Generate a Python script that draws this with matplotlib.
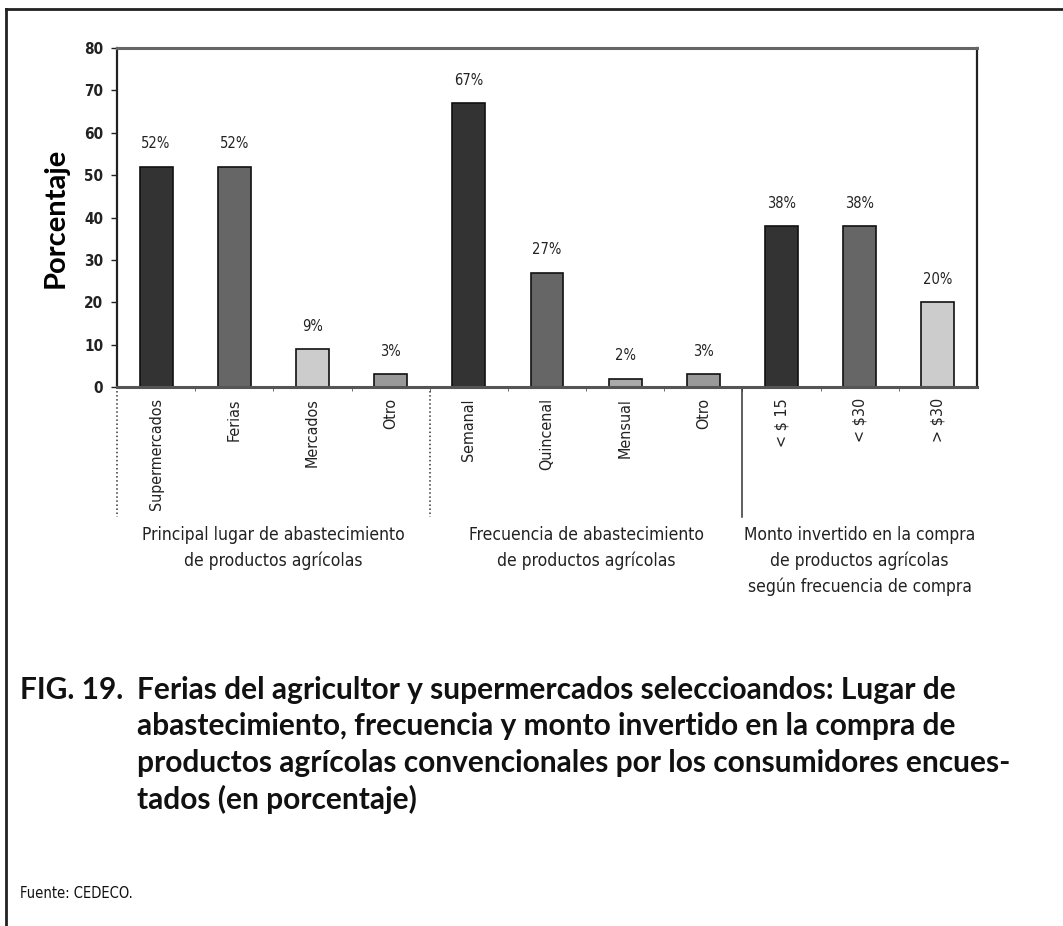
import matplotlib

matplotlib.use("Agg")
import matplotlib.pyplot as plt
from matplotlib import font_manager
from matplotlib.font_manager import FontProperties
from matplotlib.lines import Line2D


categories = [
    "Supermercados", "Ferias", "Mercados", "Otro",
    "Semanal", "Quincenal", "Mensual", "Otro",
    "< $ 15", "< $30", "> $30",
]
values = [52, 52, 9, 3, 67, 27, 2, 3, 38, 38, 20]
value_labels = ["52%", "52%", "9%", "3%", "67%", "27%", "2%", "3%", "38%", "38%", "20%"]
bar_colors = [
    "#333333", "#666666", "#cccccc", "#999999",
    "#333333", "#666666", "#aaaaaa", "#999999",
    "#333333", "#666666", "#cccccc",
]
group_labels = [
    "Principal lugar de abastecimiento\nde productos agrícolas",
    "Frecuencia de abastecimiento\nde productos agrícolas",
    "Monto invertido en la compra\nde productos agrícolas\nsegún frecuencia de compra",
]
group_centers = [1.5, 5.5, 9.0]
group_bounds = [-0.5, 3.5, 7.5]
yticks = [0, 10, 20, 30, 40, 50, 60, 70, 80]

title_lines = [
    "Ferias del agricultor y supermercados seleccioandos: Lugar de",
    "abastecimiento, frecuencia y monto invertido en la compra de",
    "productos agrícolas convencionales por los consumidores encues-",
    "tados (en porcentaje)",
]


def condensed_font(size, weight="normal"):
    # look for a narrow face; fall back to DejaVu Sans
    for f in font_manager.fontManager.ttflist:
        name = f.name.lower()
        if ("narrow" in name or "condensed" in name or f.stretch == "condensed") \
                and f.style == "normal" and (f.weight in (400, "normal", "regular")
                                             if weight == "normal" else f.weight in (700, "bold")):
            return FontProperties(fname=f.fname, size=size)
    return FontProperties(family="DejaVu Sans", size=size, weight=weight)


bold_font = ["Lato", "DejaVu Sans"]

W, H = 1063, 926
fig = plt.figure(figsize=(W / 100, H / 100), dpi=100)

# page frame: left and top edges
fig.add_artist(Line2D([6 / W, 6 / W], [0, 1 - 9 / H], color="#222222", lw=2))
fig.add_artist(Line2D([6 / W, 1], [1 - 9 / H, 1 - 9 / H], color="#222222", lw=2))

left, right, top, bottom = 117, 977, 48, 387
ax = fig.add_axes([left / W, 1 - bottom / H, (right - left) / W, (bottom - top) / H])

x = list(range(len(categories)))
ax.bar(x, values, width=0.42, color=bar_colors, edgecolor="#111111", linewidth=1.2)
for xi, v, lab in zip(x, values, value_labels):
    ax.text(xi, v + 3.6, lab, ha="center", va="bottom",
            fontproperties=condensed_font(10.5), color="#222222")

ax.set_xlim(-0.5, len(categories) - 0.5)
ax.set_ylim(0, 80)
ax.set_yticks(yticks)
ax.set_yticklabels([str(t) for t in yticks], fontproperties=condensed_font(11, "bold"),
                   color="#222222")
ax.set_xticks(x)
ax.set_xticklabels(categories, rotation=90, fontproperties=condensed_font(11.5),
                   color="#222222")
ax.tick_params(axis="x", length=0, pad=8)
ax.set_xticks([b + 0.5 for b in range(len(categories))][:-1], minor=True)
ax.tick_params(axis="x", which="minor", length=3, color="#555555")
ax.tick_params(axis="y", length=4, width=1, color="#222222", pad=6)

for side in ["left", "right"]:
    ax.spines[side].set_color("#222222")
    ax.spines[side].set_linewidth(1.6)
ax.spines["top"].set_color("#666666")
ax.spines["top"].set_linewidth(2.2)
ax.spines["bottom"].set_color("#555555")
ax.spines["bottom"].set_linewidth(2.2)

ax.set_ylabel("Porcentaje", family=bold_font, fontweight="bold", fontsize=21,
              labelpad=11)

# group separators under the axis
line_bottom = -(517 - bottom) / (bottom - top)
trans = ax.get_xaxis_transform()
for b, ls in zip(group_bounds, [":", ":", "-"]):
    ax.plot([b, b], [0, line_bottom], transform=trans, clip_on=False,
            color="#333333", lw=1.1, linestyle=ls)

label_y = -(526 - bottom) / (bottom - top)
for gx, gl in zip(group_centers, group_labels):
    ax.text(gx, label_y, gl, transform=trans, ha="center", va="top",
            fontproperties=condensed_font(12.5), linespacing=1.5, color="#222222")

# caption
fig.text(20 / W, 1 - 690 / H, "FIG. 19.", family=bold_font, fontweight="bold",
         fontsize=21.5, va="center", ha="left", color="#111111")
for i, line in enumerate(title_lines):
    fig.text(137 / W, 1 - (690 + 36.5 * i) / H, line, family=bold_font,
             fontweight="bold", fontsize=21.5, va="center", ha="left", color="#111111")

fig.text(20 / W, 1 - 894 / H, "Fuente: CEDECO.", fontproperties=condensed_font(10.5),
         va="center", ha="left", color="#111111")

fig.savefig("out.png", dpi=100)
